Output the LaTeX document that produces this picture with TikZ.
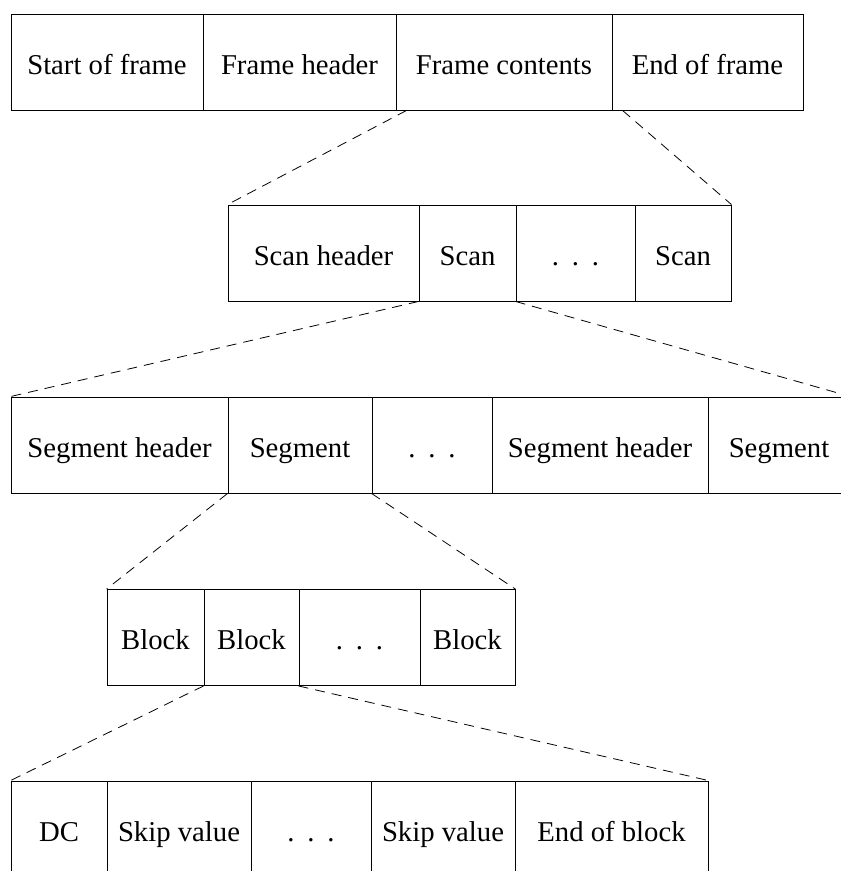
\documentclass[tikz,border=0pt]{standalone}
\usepackage{fontspec}
\setmainfont{Liberation Serif}
\newcommand{\threedots}{.\hspace{0.45em}.\hspace{0.45em}.}
\tikzset{
  cell/.style={draw, rectangle, inner sep=0pt, line width=0.9pt,
    minimum height=96pt, text height=24pt, text depth=0pt,
    font=\fontsize{28.7}{34}\selectfont},
  zoomline/.style={line width=0.8pt, dash pattern=on 10pt off 7pt},
}
\begin{document}
\begin{tikzpicture}[x=1pt, y=-1pt]
  \useasboundingbox (0,0) rectangle (841,871);
  \clip (0,0) rectangle (841,871);

  % frame
  \node[cell, minimum width=192pt] (f1) at (107,62)   {Start of frame};
  \node[cell, minimum width=193pt] (f2) at (299.5,62) {Frame header};
  \node[cell, minimum width=216pt] (f3) at (504,62)   {Frame contents};
  \node[cell, minimum width=191pt] (f4) at (707.5,62) {End of frame};

  % frame contents
  \node[cell, minimum width=191pt] (s1) at (323.5,253) {Scan header};
  \node[cell, minimum width=97pt]  (s2) at (467.5,253) {Scan};
  \node[cell, minimum width=119pt] (s3) at (575.5,253) {\threedots};
  \node[cell, minimum width=96pt]  (s4) at (683,253)   {Scan};

  % scan
  \node[cell, minimum width=217pt] (g1) at (119.5,445) {Segment header};
  \node[cell, minimum width=144pt] (g2) at (300,445)   {Segment};
  \node[cell, minimum width=120pt] (g3) at (432,445)   {\threedots};
  \node[cell, minimum width=216pt] (g4) at (600,445)   {Segment header};
  \node[cell, minimum width=142pt] (g5) at (779,445)   {Segment};

  % segment
  \node[cell, minimum width=97pt]  (b1) at (155.5,637.5) {Block};
  \node[cell, minimum width=95pt]  (b2) at (251.5,637.5) {Block};
  \node[cell, minimum width=121pt] (b3) at (359.5,637.5) {\threedots};
  \node[cell, minimum width=95pt]  (b4) at (467.5,637.5) {Block};

  % block
  \node[cell, minimum width=96pt]  (d1) at (59,829)    {DC};
  \node[cell, minimum width=144pt] (d2) at (179,829)   {Skip value};
  \node[cell, minimum width=120pt] (d3) at (311,829)   {\threedots};
  \node[cell, minimum width=144pt] (d4) at (443,829)   {Skip value};
  \node[cell, minimum width=193pt] (d5) at (611.5,829) {End of block};

  % zoom-in guides
  \draw[zoomline] ([xshift=11pt]f3.south west) -- (s1.north west);
  \draw[zoomline] ([xshift=11pt]f4.south west) -- (s4.north east);
  \draw[zoomline] (s2.south west) -- (g1.north west);
  \draw[zoomline] (s3.south west) -- (g5.north east);
  \draw[zoomline] (g2.south west) -- (b1.north west);
  \draw[zoomline] (g3.south west) -- (b4.north east);
  \draw[zoomline] (b2.south west) -- (d1.north west);
  \draw[zoomline] (b3.south west) -- (d5.north east);
\end{tikzpicture}
\end{document}
